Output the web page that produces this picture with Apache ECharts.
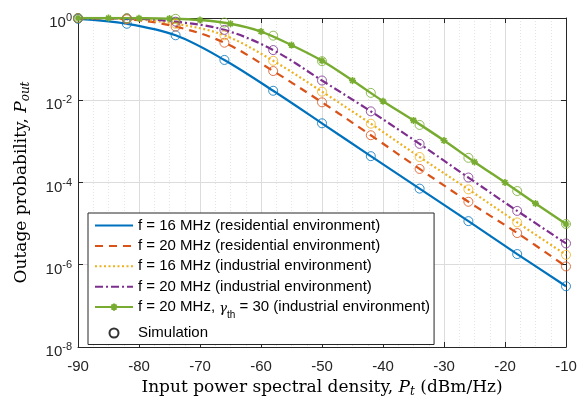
<!DOCTYPE html>
<html>
<head>
<meta charset="utf-8">
<script src="https://cdn.jsdelivr.net/npm/echarts@6/dist/echarts.min.js"></script>
<style>html,body{margin:0;padding:0;background:#fff}#c{width:588px;height:403px}</style>
</head>
<body>
<div id="c"></div>
<script>
// x positions of simulation markers / analytic samples
const xSim = [-90, -82, -74, -66, -58, -50, -42, -34, -26, -18, -10];
const res16 = [0.955, 0.724, 0.380, 0.0955, 0.0170, 2.75e-3, 4.37e-4, 7.1e-5, 1.15e-5, 1.82e-6, 3.0e-7];
const res20 = [0.989, 0.933, 0.617, 0.251, 0.0513, 8.9e-3, 1.41e-3, 2.14e-4, 3.4e-5, 5.9e-6, 9.1e-7];
const ind16 = [0.993, 0.955, 0.724, 0.380, 0.0912, 0.0162, 2.69e-3, 4.17e-4, 6.8e-5, 1.07e-5, 1.74e-6];
const ind20 = [0.995, 0.977, 0.813, 0.513, 0.166, 0.0302, 5.37e-3, 8.7e-4, 1.32e-4, 2.04e-5, 3.3e-6];
const ind20g30Sim = [1.0, 0.993, 0.955, 0.776, 0.372, 0.0891, 0.0151, 2.51e-3, 3.98e-4, 6.2e-5, 9.8e-6];
// green analytic curve with star markers every 5 dB
const xGreen = [-90, -85, -80, -75, -70, -65, -60, -55, -50, -45, -40, -35, -30, -25, -20, -15, -10];
const ind20g30 = [1.0, 0.998, 0.991, 0.966, 0.891, 0.724, 0.468, 0.219, 0.0912, 0.0302, 9.5e-3, 3.24e-3, 1.05e-3, 3.16e-4, 1.0e-4, 3.1e-5, 9.8e-6];

const names = [
  'f = 16 MHz (residential environment)',
  'f = 20 MHz (residential environment)',
  'f = 16 MHz (industrial environment)',
  'f = 20 MHz (industrial environment)',
  'f = 20 MHz, gamma_th = 30 (industrial environment)',
  'Simulation'
];
const colors = ['#0072BD', '#D95319', '#EDB120', '#7E2F8E', '#77AC30'];
const dashes = ['solid', [8, 6], [2, 2.5], [8, 3, 2, 3]];
const simSets = [res16, res20, ind16, ind20, ind20g30Sim];

const pair = (xs, ys) => xs.map((x, i) => [x, ys[i]]);
const axisCol = '#262626';
const sans = 'Liberation Sans, Arial, Helvetica, sans-serif';
const serif = 'DejaVu Serif, serif';

const series = [];
[res16, res20, ind16, ind20].forEach((d, k) => {
  series.push({
    name: names[k], type: 'line', data: pair(xSim, d), symbol: 'circle', showSymbol: false, smooth: 0.35,
    lineStyle: { color: colors[k], width: 2.2, type: dashes[k] }, itemStyle: { color: colors[k] }, z: 2
  });
});
series.push({
  name: names[4], type: 'line', data: pair(xGreen, ind20g30), smooth: 0.35,
  symbol: 'path://M0,-10L0,10M-10,0L10,0M-7,-7L7,7M-7,7L7,-7', symbolSize: 7, showAllSymbol: true,
  lineStyle: { color: colors[4], width: 2.4 },
  itemStyle: { color: colors[4], borderColor: colors[4], borderWidth: 1.6 }, z: 2
});
const simData = [];
simSets.forEach((d, k) => {
  xSim.forEach((x, i) => simData.push({ value: [x, d[i]], itemStyle: { borderColor: colors[k] } }));
});
series.push({
  name: names[5], type: 'scatter', data: simData, symbol: 'circle', symbolSize: 9,
  itemStyle: { color: 'rgba(0,0,0,0)', borderColor: '#000', borderWidth: 1 }, z: 3
});

const legendData = names.map((n, k) => k < 4 ? { name: n, itemStyle: { opacity: 0 } } : { name: n });

const chart = echarts.init(document.getElementById('c'), null, { renderer: 'canvas' });
chart.setOption({
  animation: false,
  backgroundColor: '#fff',
  grid: { left: 78, right: 22, top: 18, bottom: 49 },
  legend: {
    orient: 'vertical', left: 88, top: 213,
    data: legendData,
    itemWidth: 38, itemHeight: 9, itemGap: 5.4,
    padding: [5, 4, 4, 6],
    backgroundColor: '#fff', borderColor: '#262626', borderWidth: 1,
    selectedMode: false,
    textStyle: {
      fontFamily: sans, fontSize: 15, color: '#000',
      rich: {
        g: { fontFamily: serif, fontStyle: 'italic', fontSize: 13, color: '#000', padding: [3, 0, 0, 0] },
        s: { fontFamily: sans, fontSize: 10, color: '#000', padding: [16, 0, 0, 0] }
      }
    },
    formatter: n => n === names[4] ? 'f = 20 MHz, {g|γ}{s|th} = 30 (industrial environment)' : n
  },
  xAxis: [{
    type: 'value', min: -90, max: -10, interval: 10,
    axisLine: { show: true, onZero: false, lineStyle: { color: axisCol, width: 1 } },
    axisTick: { show: true, inside: true, length: 5, lineStyle: { color: axisCol } },
    axisLabel: { color: axisCol, fontSize: 15, fontFamily: sans, margin: 12 },
    splitLine: { show: true, lineStyle: { color: '#dcdcdc', width: 1 } },
    minorTick: { show: false, splitNumber: 4 },
    minorSplitLine: { show: true, lineStyle: { color: '#e4e4e4', type: [1, 2], width: 1 } },
    name: 'Input power spectral density, {i|P}{sub|t} (dBm/Hz)',
    nameLocation: 'middle', nameGap: 31,
    nameTextStyle: {
      fontFamily: serif, fontSize: 17, color: '#000',
      rich: {
        i: { fontFamily: serif, fontStyle: 'italic', fontSize: 17, color: '#000' },
        sub: { fontFamily: serif, fontStyle: 'italic', fontSize: 12, color: '#000', padding: [8, 0, 0, 0] }
      }
    }
  }, {
    type: 'value', min: -90, max: -10, interval: 10, position: 'top',
    axisLine: { show: true, onZero: false, lineStyle: { color: axisCol, width: 1 } },
    axisTick: { show: true, inside: true, length: 5, lineStyle: { color: axisCol } },
    axisLabel: { show: false }, splitLine: { show: false }
  }],
  yAxis: [{
    type: 'log', logBase: 10, min: 1e-8, max: 1, interval: 2,
    axisLine: { show: true, onZero: false, lineStyle: { color: axisCol, width: 1 } },
    axisTick: { show: true, inside: true, length: 5, lineStyle: { color: axisCol } },
    axisLabel: {
      color: axisCol, margin: 6, padding: [10, 0, 0, 0],
      formatter: v => '{b|10}{e|' + Math.round(Math.log10(v)) + '}',
      rich: {
        b: { fontSize: 15, fontFamily: sans, color: axisCol },
        e: { fontSize: 11, fontFamily: sans, color: axisCol, padding: [0, 0, 10, 0] }
      }
    },
    splitLine: { show: true, lineStyle: { color: '#dcdcdc', width: 1 } },
    name: 'Outage probability, {i|P}{sub|out}',
    nameLocation: 'middle', nameGap: 46, nameRotate: 90,
    nameTextStyle: {
      fontFamily: serif, fontSize: 17, color: '#000',
      rich: {
        i: { fontFamily: serif, fontStyle: 'italic', fontSize: 17, color: '#000' },
        sub: { fontFamily: serif, fontStyle: 'italic', fontSize: 12, color: '#000', padding: [8, 0, 0, 0] }
      }
    }
  }, {
    type: 'log', logBase: 10, min: 1e-8, max: 1, interval: 2, position: 'right',
    axisLine: { show: true, onZero: false, lineStyle: { color: axisCol, width: 1 } },
    axisTick: { show: true, inside: true, length: 5, lineStyle: { color: axisCol } },
    axisLabel: { show: false }, splitLine: { show: false }
  }],
  series: series
});
</script>
</body>
</html>
